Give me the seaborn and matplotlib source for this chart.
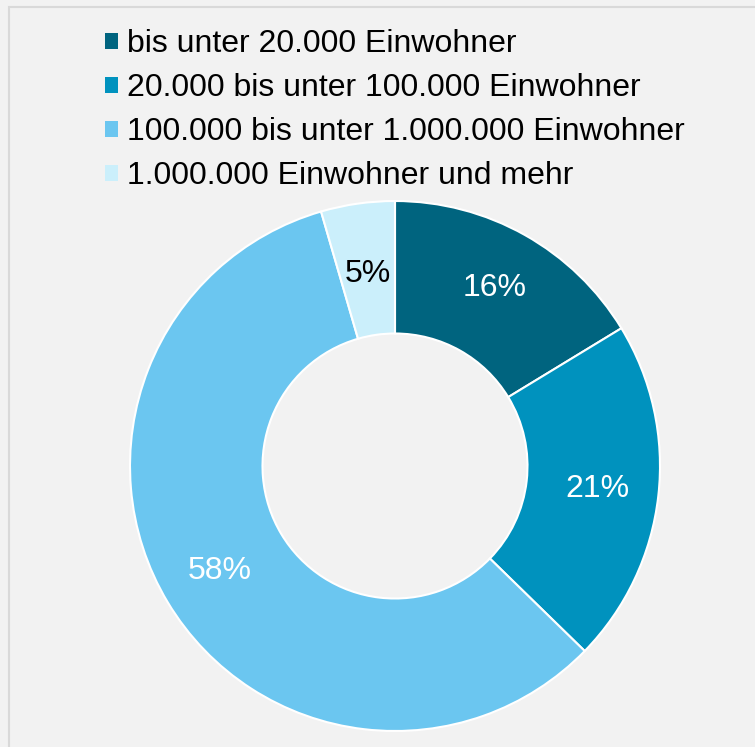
import matplotlib
matplotlib.use("Agg")
import matplotlib.pyplot as plt
from matplotlib.patches import Patch, Rectangle
import seaborn as sns
import numpy as np

# Anteile nach Gemeindegröße (in %)
kategorien = ["bis unter 20.000 Einwohner",
              "20.000 bis unter 100.000 Einwohner",
              "100.000 bis unter 1.000.000 Einwohner",
              "1.000.000 Einwohner und mehr"]
anteile = [16.3, 21.0, 58.2, 4.5]
beschriftung = ["16%", "21%", "58%", "5%"]
farben = ["#00647F", "#0092BE", "#6BC6F0", "#CBEFFB"]
textfarben = ["white", "white", "white", "black"]

sns.set_theme(style="white")
plt.rcParams['font.family'] = ['Liberation Sans', 'DejaVu Sans']
plt.rcParams['text.color'] = 'black'

bg = "#F2F2F2"
fig = plt.figure(figsize=(7.55, 7.47), dpi=100, facecolor=bg)

# Rahmen
fig.patches.append(Rectangle((9 / 755, -0.1), 1.2, (747 - 7) / 747 + 0.1,
                             transform=fig.transFigure, fill=False,
                             edgecolor="#D9D9D9", linewidth=1.5, zorder=0))

ax = fig.add_axes([130 / 755, 16 / 747, 530 / 755, 530 / 747])
ax.set_facecolor(bg)
wedges, texts = ax.pie(anteile, colors=sns.color_palette(farben), startangle=90,
                       counterclock=False, radius=1,
                       wedgeprops=dict(width=0.5, edgecolor="white", linewidth=1.5))
ax.set_xlim(-1, 1)
ax.set_ylim(-1, 1)
ax.axis('off')

kum = 0
for w, txt, tc in zip(anteile, beschriftung, textfarben):
    mitte = kum + w / 2
    kum += w
    winkel = np.deg2rad(90 - mitte / 100 * 360)
    r = 0.77 if txt != "5%" else 0.73
    ax.text(r * np.cos(winkel), r * np.sin(winkel), txt, ha='center', va='center',
            color=tc, fontsize=23)

handles = [Patch(facecolor=c, edgecolor='none') for c in farben]
fig.legend(handles, kategorien, loc='upper left', bbox_to_anchor=(105 / 755, 1 - 29 / 747),
           frameon=False, fontsize=23, handlelength=0.4, handleheight=0.4,
           handletextpad=0.28, labelspacing=0.44, borderpad=0, borderaxespad=0,
           labelcolor='black')

fig.savefig("out.png", dpi=100, facecolor=bg)
